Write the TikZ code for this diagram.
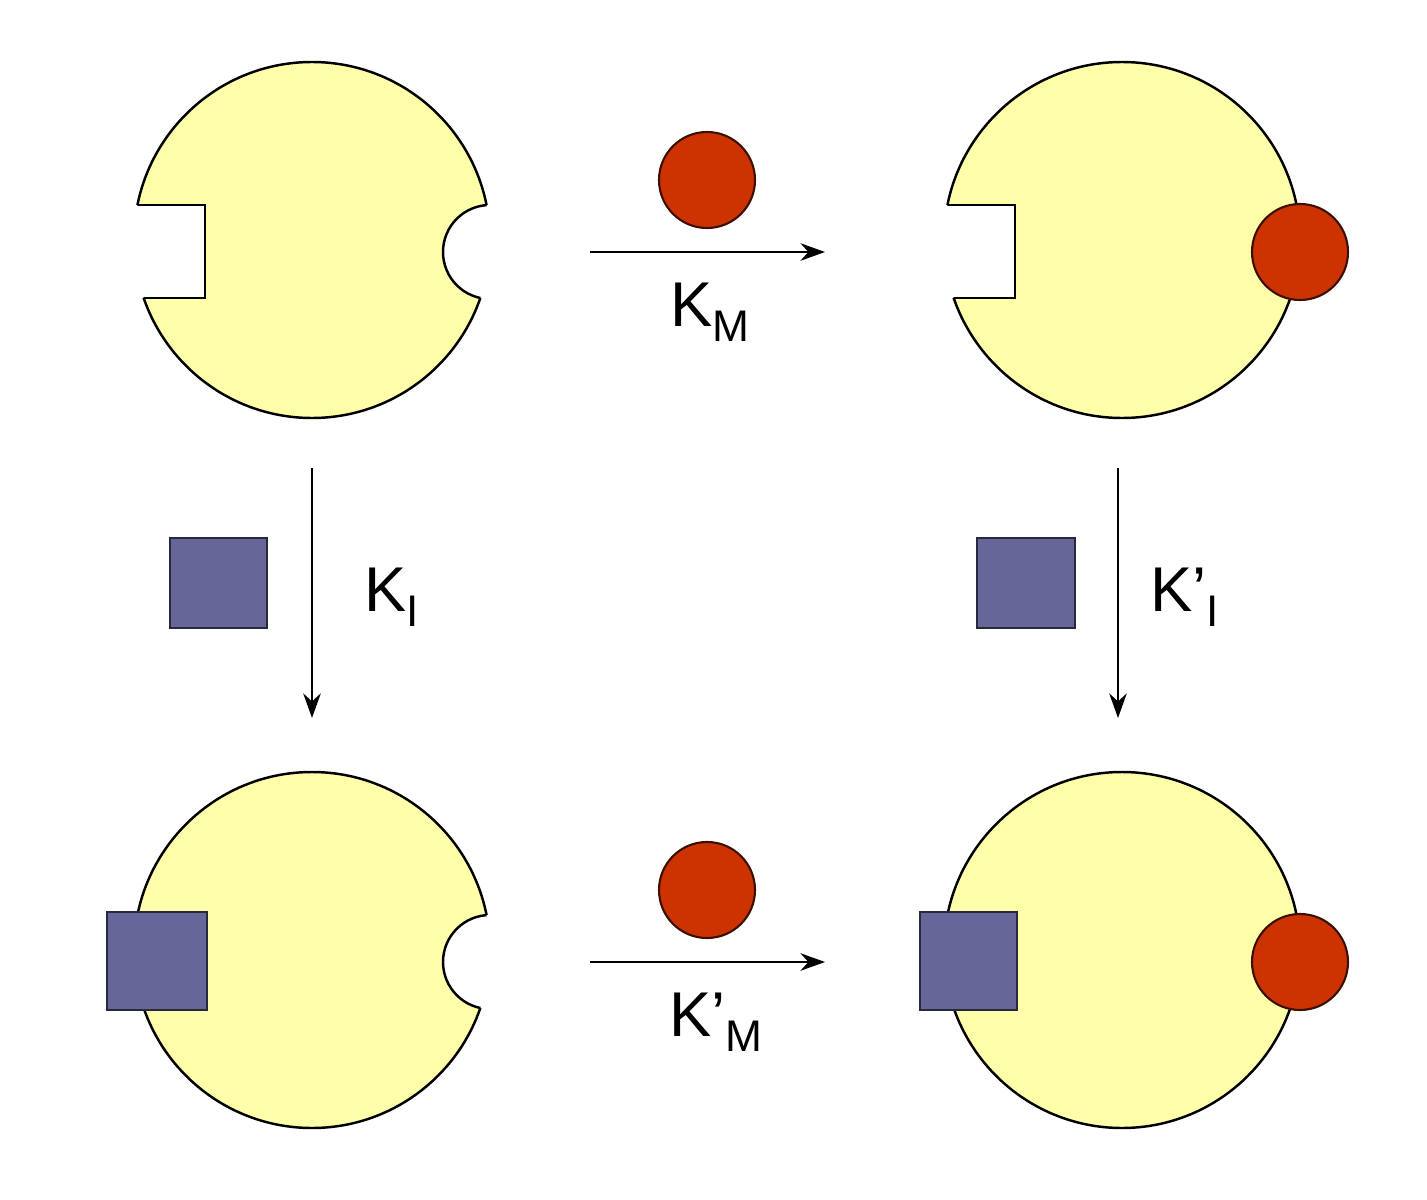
\documentclass[tikz,border=0pt]{standalone}
\usepackage{fontspec}
\setmainfont{Liberation Sans}
\usetikzlibrary{arrows.meta}
\definecolor{enz}{RGB}{255,255,170}
\definecolor{subred}{RGB}{204,51,0}
\definecolor{inhib}{RGB}{102,102,153}
\tikzset{
  outl/.style={line width=1.4pt},
  ball/.style={fill=subred,draw=black!70!subred,line width=1.2pt},
  sq/.style={fill=inhib,draw=black!60!inhib,line width=1.2pt},
  rxn/.style={line width=1.2pt,-{Stealth[length=14pt,width=10pt]}},
  lab/.style={font=\fontsize{36}{40}\selectfont}
}
\newcommand{\enzyme}[4]{% cx, cy, leftnotch(1/0), rightnotch(1/0)
  \fill[enz] (#1,#2) circle (178);
  \draw[outl] (#1,#2) circle (178);
  \ifnum#3=1
    \fill[white] (#1-200,#2-35) rectangle (#1-107,#2+58);
    \begin{scope}\clip (#1,#2) circle (178);
      \draw[outl] (#1-200,#2-35) -- (#1-107,#2-35) -- (#1-107,#2+58) -- (#1-200,#2+58);
    \end{scope}
  \fi
  \ifnum#4=1
    \fill[white] (#1+178,#2+12) circle (47);
    \begin{scope}\clip (#1,#2) circle (178);
      \draw[outl] (#1+178,#2+12) circle (47);
    \end{scope}
  \fi
}
\begin{document}
\begin{tikzpicture}[x=0.02cm,y=-0.02cm]
\useasboundingbox (0,0) rectangle (1427,1200);
\enzyme{312}{240}{1}{1}
\enzyme{1122}{240}{1}{0}
\enzyme{312}{950}{0}{1}
\enzyme{1122}{950}{0}{0}
% bound ligands
\draw[ball] (1300,252) circle (48);
\draw[ball] (1300,962) circle (48);
\draw[sq] (107,912) rectangle (207,1010);
\draw[sq] (920,912) rectangle (1017,1010);
% free ligands
\draw[ball] (707,180) circle (48);
\draw[ball] (707,890) circle (48);
\draw[sq] (170,538) rectangle (267,628);
\draw[sq] (977,538) rectangle (1075,628);
% arrows
\coordinate (a1) at (590,252); \coordinate (b1) at (825,252);
\coordinate (a2) at (590,962); \coordinate (b2) at (825,962);
\coordinate (a3) at (312,468); \coordinate (b3) at (312,718);
\coordinate (a4) at (1118,468); \coordinate (b4) at (1118,718);
\draw[rxn] (a1) -- (b1);
\draw[rxn] (a2) -- (b2);
\draw[rxn] (a3) -- (b3);
\draw[rxn] (a4) -- (b4);
\node[lab] (km) at (710,312) {K\textsubscript{M}};
\node[lab] (kpm) at (716,1022) {K’\textsubscript{M}};
\node[lab] (ki) at (392,597) {K\textsubscript{I}};
\node[lab] (kpi) at (1185,597) {K’\textsubscript{I}};
\end{tikzpicture}
\end{document}
